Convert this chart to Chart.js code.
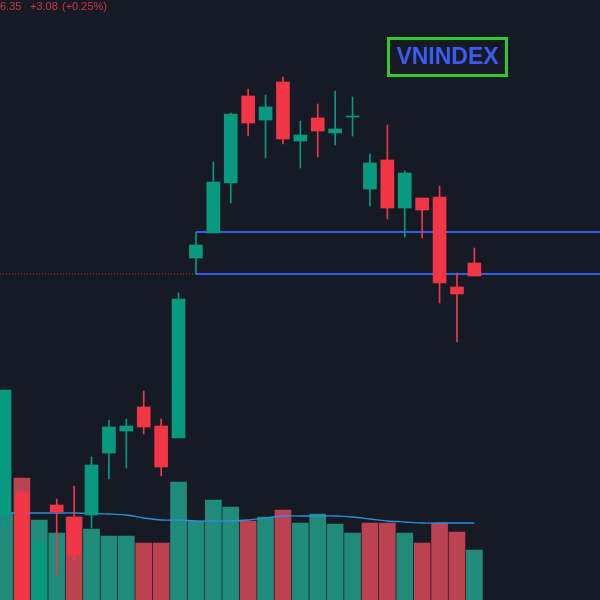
<!DOCTYPE html>
<html lang="vi">
<head>
    <meta charset="UTF-8">
    <title>VNINDEX</title>
    <script src="https://cdn.jsdelivr.net/npm/chart.js"></script>
    <style>
        html, body {
            margin: 0;
            padding: 0;
            background: #161a25;
            overflow: hidden;
        }
        #wrap {
            width: 600px;
            height: 600px;
            position: relative;
        }
        canvas {
            display: block;
        }
    </style>
</head>
<body>

<div id="wrap">
    <canvas id="vnChart"></canvas>
</div>

<script>
    // phiên giao dịch (chỉ số nến)
    const sessions = [0, 1, 2, 3, 4, 5, 6, 7, 8, 9, 10, 11, 12, 13, 14, 15, 16, 17, 18, 19, 20, 21, 22, 23, 24, 25, 26, 27];

    const opens  = [1082.5, 1093.5, 1035, 1087.5, 1081.5, 1082.5, 1113.5, 1124.5, 1136.5, 1127, 1121, 1211, 1223.5, 1248.5, 1292, 1280, 1299, 1269.5, 1281, 1273.5, 1281.5, 1245.5, 1260, 1236, 1241, 1241.5, 1196.5, 1208.5];
    const highs  = [1145, 1095, 1070, 1090.5, 1097, 1111.5, 1130, 1130.5, 1144.5, 1130.5, 1193.5, 1224, 1259, 1283.5, 1295.5, 1292.5, 1301.5, 1279.5, 1288, 1294.5, 1291.5, 1263, 1277.5, 1254.5, 1241, 1247, 1203.5, 1216];
    const lows   = [1075, 1030, 1030, 1052.5, 1059, 1076, 1100.5, 1106, 1123, 1102, 1121, 1203, 1223.5, 1238.5, 1272, 1261, 1268, 1256, 1261.5, 1267.5, 1272, 1237, 1230.5, 1221.5, 1221, 1188.5, 1169, 1202];
    const closes = [1145, 1034, 1068.5, 1084, 1062.5, 1107.5, 1126.5, 1127, 1126.5, 1106.5, 1190.5, 1217.5, 1249, 1283, 1278.5, 1286.5, 1270.5, 1272.5, 1274.5, 1275.5, 1282, 1258.5, 1236, 1253.5, 1235, 1198.5, 1193, 1202];

    // khối lượng (triệu cp) và hướng màu
    const volumes = [696, 976, 640, 536, 664, 568, 512, 512, 456, 456, 944, 632, 800, 744, 632, 664, 720, 616, 688, 608, 536, 616, 616, 536, 456, 616, 544, 400];
    const volumeUp = [1, 0, 1, 1, 0, 1, 1, 1, 0, 0, 1, 1, 1, 1, 0, 1, 0, 1, 1, 1, 1, 0, 0, 1, 0, 0, 0, 1];
    const volumeMA = [696, 696, 696, 696, 696, 692, 688, 680, 656, 640, 640, 632, 632, 632, 640, 656, 672, 672, 672, 672, 664, 648, 632, 624, 616, 616, 616, 616];

    // vùng hộp và đường giá tham chiếu
    const boxTop = 1224;
    const boxBottom = 1203;
    const boxStart = 11;
    const refPrice = 1203;

    const header = ['6.35', '+3.08', '(+0.25%)'];
    const tickerLabel = 'VNINDEX';

    const xMin = -0.26;
    const xMax = 34.22;

    const GREEN = '#089981';
    const RED = '#f23645';

    const wickData = sessions.map(i => ({ x: i, y: [lows[i], highs[i]] }));
    const bodyData = sessions.map(i => {
        let lo = Math.min(opens[i], closes[i]);
        let hi = Math.max(opens[i], closes[i]);
        if (hi - lo < 0.5) hi = lo + 0.5;
        return { x: i, y: [lo, hi] };
    });
    const candleColors = sessions.map(i => closes[i] >= opens[i] ? GREEN : RED);

    const textPlugin = {
        id: 'texts',
        afterDraw(chart) {
            const ctx = chart.ctx;
            ctx.save();
            ctx.font = '11px "Liberation Sans", Arial, sans-serif';
            ctx.fillStyle = 'rgba(242, 54, 69, 0.85)';
            ctx.textBaseline = 'middle';
            ctx.fillText(header[0], 0, 7);
            ctx.fillText(header[1], 30, 7);
            ctx.fillText(header[2], 62, 7);

            ctx.strokeStyle = '#2ecc2e';
            ctx.lineWidth = 3;
            ctx.strokeRect(388.5, 38.5, 118, 37);
            ctx.font = 'bold 23px "Liberation Sans", Arial, sans-serif';
            ctx.fillStyle = '#3a5cf0';
            ctx.textAlign = 'center';
            ctx.fillText(tickerLabel, 447.5, 58);
            ctx.restore();
        }
    };

    const bgPlugin = {
        id: 'bg',
        beforeDraw(chart) {
            const ctx = chart.ctx;
            ctx.save();
            ctx.fillStyle = '#161a25';
            ctx.fillRect(0, 0, chart.width, chart.height);
            ctx.restore();
        }
    };

    new Chart(document.getElementById('vnChart'), {
        type: 'bar',
        data: {
            datasets: [
                {
                    label: 'Khối lượng',
                    yAxisID: 'vol',
                    data: sessions.map(i => ({ x: i, y: volumes[i] })),
                    backgroundColor: volumeUp.map(u => u ? 'rgba(34, 145, 127, 0.95)' : 'rgba(196, 70, 83, 0.95)'),
                    barThickness: 16,
                    order: 5
                },
                {
                    type: 'line',
                    label: 'MA khối lượng',
                    yAxisID: 'vol',
                    data: sessions.map(i => ({ x: i, y: volumeMA[i] })),
                    borderColor: '#2a8fe0',
                    borderWidth: 1.3,
                    pointRadius: 0,
                    tension: 0.3,
                    order: 4
                },
                {
                    type: 'line',
                    label: 'Tham chiếu',
                    yAxisID: 'y',
                    data: [{ x: xMin, y: refPrice }, { x: xMax, y: refPrice }],
                    borderColor: 'rgba(242, 54, 69, 0.8)',
                    borderWidth: 1,
                    borderDash: [1, 2],
                    pointRadius: 0,
                    order: 3.5
                },
                {
                    type: 'line',
                    label: 'Hộp trên',
                    yAxisID: 'y',
                    data: [{ x: boxStart, y: boxTop }, { x: xMax, y: boxTop }],
                    borderColor: '#2f5fe8',
                    borderWidth: 2,
                    pointRadius: 0,
                    order: 3
                },
                {
                    type: 'line',
                    label: 'Hộp dưới',
                    yAxisID: 'y',
                    data: [{ x: boxStart, y: boxBottom }, { x: xMax, y: boxBottom }],
                    borderColor: '#2f5fe8',
                    borderWidth: 2,
                    pointRadius: 0,
                    order: 3
                },
                {
                    label: 'Bóng nến',
                    yAxisID: 'y',
                    data: wickData,
                    backgroundColor: candleColors,
                    barThickness: 1,
                    order: 2
                },
                {
                    label: 'Thân nến',
                    yAxisID: 'y',
                    data: bodyData,
                    backgroundColor: candleColors,
                    barThickness: 13,
                    order: 1
                }
            ]
        },
        options: {
            responsive: true,
            maintainAspectRatio: false,
            animation: false,
            layout: { padding: 0 },
            datasets: {
                bar: { grouped: false, borderWidth: 0, borderSkipped: false }
            },
            plugins: {
                legend: { display: false },
                tooltip: { enabled: false }
            },
            scales: {
                x: {
                    type: 'linear',
                    min: xMin,
                    max: xMax,
                    offset: false,
                    display: false
                },
                y: {
                    min: 1040,
                    max: 1340,
                    display: false
                },
                vol: {
                    position: 'right',
                    min: 0,
                    max: 4800,
                    display: false
                }
            }
        },
        plugins: [bgPlugin, textPlugin]
    });
</script>

</body>
</html>
